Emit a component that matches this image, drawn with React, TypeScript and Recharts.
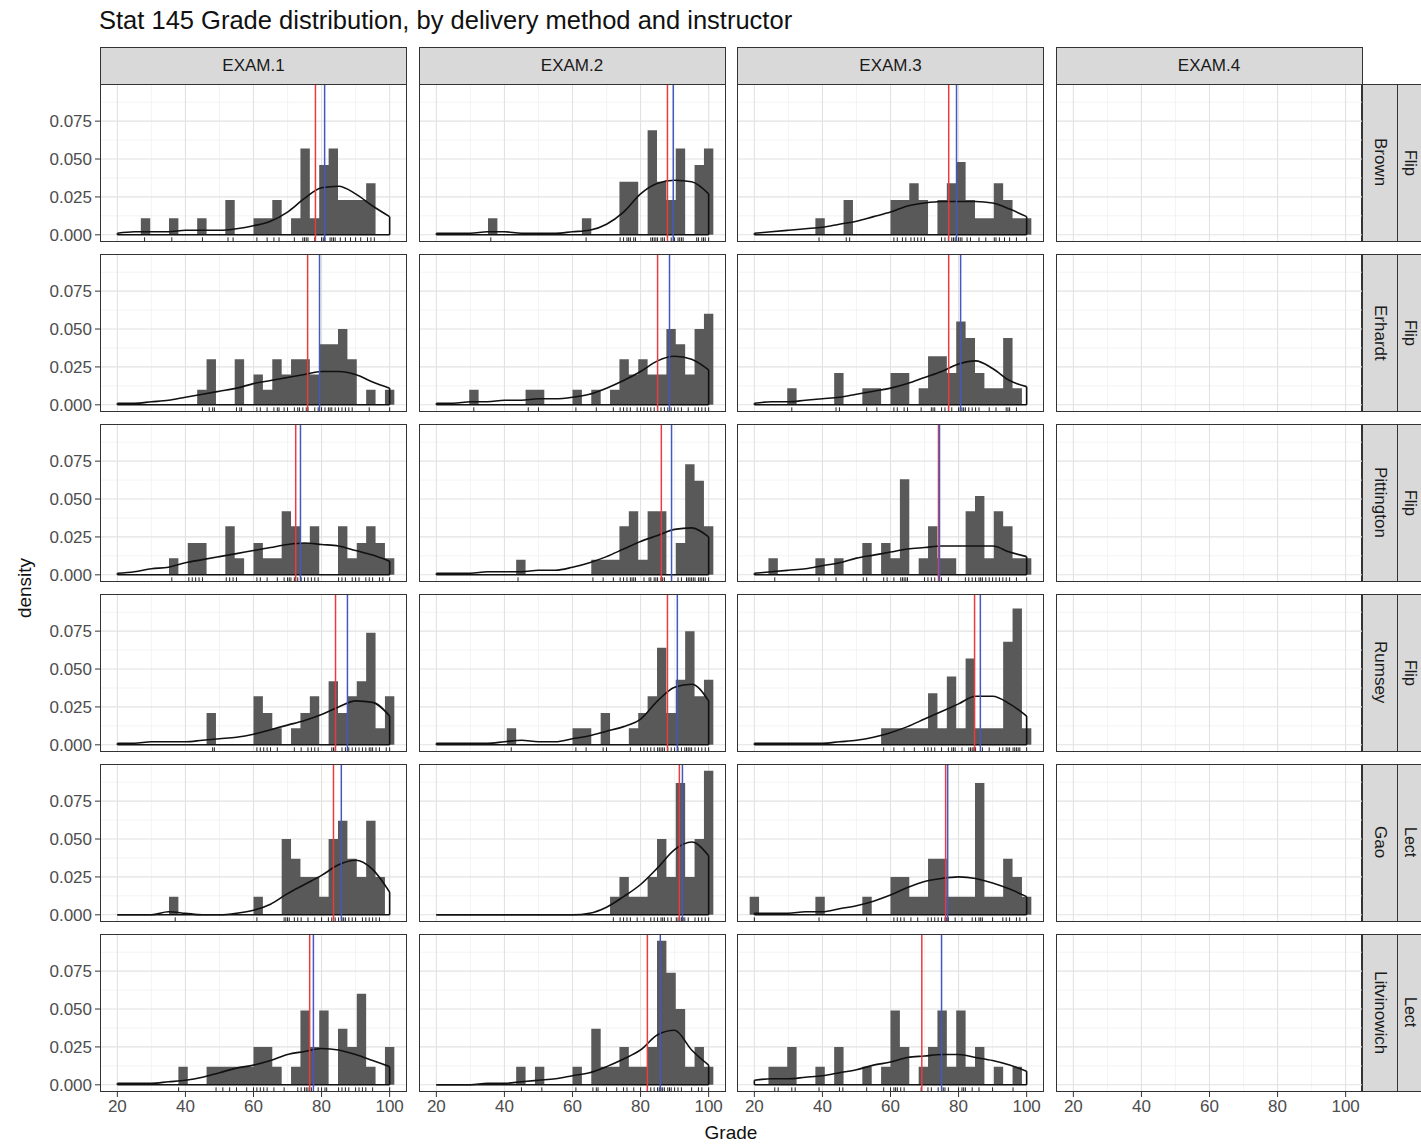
import React from 'react';
import { ComposedChart, Area, Line, XAxis, YAxis, CartesianGrid, ReferenceLine } from 'recharts';

const FONT = '"Liberation Sans", Arial, Helvetica, sans-serif';

const EXAMS = ['EXAM.1', 'EXAM.2', 'EXAM.3', 'EXAM.4'];
const INSTRUCTORS = ['Brown', 'Erhardt', 'Pittington', 'Rumsey', 'Gao', 'Litvinowich'];
const METHODS = ['Flip', 'Flip', 'Flip', 'Flip', 'Lect', 'Lect'];

// histogram bin edges (30 bins), shared by every panel
const BIN_EDGES = [18.62, 21.38, 24.14, 26.9, 29.66, 32.41, 35.17, 37.93, 40.69, 43.45, 46.21, 48.97, 51.72, 54.48, 57.24, 60.0,
  62.76, 65.52, 68.28, 71.03, 73.79, 76.55, 79.31, 82.07, 84.83, 87.59, 90.34, 93.1, 95.86, 98.62, 101.38];
// grades where the density curve was read
const DENS_X = [20, 25, 30, 35, 40, 45, 50, 55, 60, 65, 70, 75, 80, 85, 90, 95, 100];

const X_TICKS = [20, 40, 60, 80, 100];
const X_MINOR = [30, 50, 70, 90];
const Y_TICKS = [0, 0.025, 0.05, 0.075];
const Y_MINOR = [0.0125, 0.0375, 0.0625, 0.0875];

// all densities below are in thousandths
const BROWN_E1_HIST = [0, 0, 0, 11, 0, 0, 11, 0, 0, 11, 0, 0, 23, 0, 0, 11, 11, 23, 0, 11, 57, 11, 46, 57, 23, 23, 23, 34, 0, 0];
const BROWN_E1_DENS = [1, 2, 2, 2, 3, 3, 3, 4, 6, 9, 15, 24, 31, 32, 27, 19, 12];
const BROWN_E1_RUG = [28, 36, 45, 52.5, 54, 61, 64, 66, 67.5, 72, 74.5, 75, 75.5, 76, 78, 80, 80.5, 81, 82.5, 83, 83.5, 84, 85.5, 87, 88.5, 90, 91.5, 93.5, 94.5, 95.5];
const BROWN_E2_HIST = [0, 0, 0, 0, 0, 0, 11, 0, 0, 0, 0, 0, 0, 0, 0, 0, 11, 0, 0, 0, 35, 35, 0, 69, 35, 23, 57, 0, 46, 57];
const BROWN_E2_DENS = [1, 1, 1, 2, 2, 1, 1, 1, 2, 3, 7, 15, 27, 34, 36, 35, 27];
const BROWN_E2_RUG = [36, 64, 74, 75, 76, 76.5, 77, 78, 78.5, 83, 83.5, 84, 84.5, 85, 86, 86.5, 87, 89, 90, 91, 91.5, 92, 92.5, 96.5, 97, 98, 98.5, 99, 100];
const BROWN_E3_HIST = [0, 0, 0, 0, 0, 0, 0, 11, 0, 0, 23, 0, 0, 0, 0, 23, 23, 34, 23, 0, 23, 34, 48, 23, 11, 11, 34, 23, 11, 11];
const BROWN_E3_DENS = [1, 2, 3, 4, 5, 7, 9, 12, 15, 19, 21, 22, 22, 22, 21, 17, 12];
const BROWN_E3_RUG = [39, 47, 48, 61, 62, 63.5, 64.5, 66, 67, 68, 69, 70, 75, 76, 77, 78, 78.5, 79, 80, 80.5, 81, 82.5, 83.5, 86, 88, 90.5, 91, 92, 93.5, 95, 97, 100];

const ERHARDT_E1_HIST = [0, 0, 0, 0, 0, 0, 0, 0, 0, 10, 30, 0, 0, 30, 0, 20, 10, 30, 20, 30, 30, 20, 40, 40, 50, 30, 0, 10, 0, 10];
const ERHARDT_E1_DENS = [1, 1, 2, 3, 5, 7, 9, 11, 14, 16, 18, 20, 22, 22, 20, 15, 11];
const ERHARDT_E1_RUG = [45, 47, 48, 48.5, 55, 56, 56.5, 61, 62, 64, 66, 67, 67.5, 69, 70, 72, 73, 73.5, 74.5, 75.5, 76, 78, 79, 80, 81, 82, 82.5, 83, 84, 85, 86, 87, 88, 89, 94, 100];
const ERHARDT_E2_HIST = [0, 0, 0, 0, 10, 0, 0, 0, 0, 0, 10, 10, 0, 0, 0, 10, 0, 10, 0, 10, 30, 20, 30, 20, 20, 50, 40, 20, 50, 60];
const ERHARDT_E2_DENS = [1, 1, 2, 2, 3, 3, 4, 4, 5, 7, 11, 16, 22, 29, 32, 30, 23];
const ERHARDT_E2_RUG = [31, 47, 50, 61, 67, 72, 74, 75, 76, 77, 79, 80, 81, 82, 83, 84, 85, 86, 87, 88, 88.5, 89, 90, 91, 92, 94, 96, 97, 98, 99, 100];
const ERHARDT_E3_HIST = [0, 0, 0, 0, 11, 0, 0, 0, 0, 21, 0, 0, 11, 11, 0, 21, 21, 0, 11, 32, 32, 21, 55, 44, 21, 11, 11, 44, 11, 0];
const ERHARDT_E3_DENS = [1, 2, 2, 3, 4, 5, 7, 9, 11, 14, 18, 22, 27, 29, 24, 16, 12];
const ERHARDT_E3_RUG = [31, 44, 45, 53, 56, 61, 62, 64, 65, 69, 72, 72.5, 73, 75, 76, 77, 78, 80, 80.5, 81, 81.5, 82, 83, 84, 85, 86, 89, 91, 94, 94.5, 95, 97];

const PITT_E1_HIST = [0, 0, 0, 0, 0, 0, 11, 0, 21, 21, 0, 0, 32, 11, 0, 21, 11, 11, 42, 32, 21, 32, 0, 0, 32, 11, 21, 32, 21, 11];
const PITT_E1_DENS = [1, 2, 4, 5, 8, 10, 12, 14, 16, 18, 20, 21, 20, 19, 16, 13, 9];
const PITT_E1_RUG = [36, 41, 42, 43, 44, 45, 52, 53, 54, 55, 61, 62, 64, 67, 69, 70, 70.5, 71, 72, 73, 74, 75, 76, 77, 78, 79, 85, 86, 87, 89, 90, 91, 93, 94, 95, 97, 98, 100];
const PITT_E2_HIST = [0, 0, 0, 0, 0, 0, 0, 0, 0, 10, 0, 0, 0, 0, 0, 0, 0, 10, 10, 10, 32, 42, 10, 42, 42, 0, 21, 73, 62, 32];
const PITT_E2_DENS = [1, 1, 1, 2, 2, 2, 3, 3, 5, 8, 12, 17, 22, 26, 30, 31, 25];
const PITT_E2_RUG = [44, 66, 69, 72, 74, 75, 76, 77, 77.5, 78, 78.5, 81, 82.5, 83, 84, 84.5, 85, 86, 86.5, 87, 91, 92, 93.5, 94, 94.5, 95, 95.5, 96, 97, 97.5, 98, 98.5, 99, 100];
const PITT_E3_HIST = [0, 0, 11, 0, 0, 0, 0, 11, 0, 11, 0, 0, 21, 0, 21, 11, 63, 0, 11, 32, 11, 11, 0, 42, 52, 11, 42, 32, 11, 11];
const PITT_E3_DENS = [1, 2, 3, 4, 6, 8, 11, 13, 15, 17, 18, 19, 19, 19, 19, 15, 12];
const PITT_E3_RUG = [26, 39, 44, 52, 53, 58, 59, 61, 63, 63.5, 64, 64.5, 65, 70, 71, 72, 73, 75, 77, 82, 83, 84, 85, 86, 86.5, 87, 88, 89, 90, 91, 92, 93, 94, 95, 97, 100];

const RUMSEY_E1_HIST = [0, 0, 0, 0, 0, 0, 0, 0, 0, 0, 21, 0, 0, 0, 0, 32, 21, 11, 0, 11, 21, 32, 0, 42, 21, 32, 42, 74, 11, 32];
const RUMSEY_E1_DENS = [1, 1, 2, 2, 2, 3, 4, 5, 7, 10, 13, 16, 20, 25, 29, 28, 19];
const RUMSEY_E1_RUG = [48, 48.5, 61, 62, 63, 64, 65, 67, 72, 74, 76, 77, 78, 79, 83, 83.5, 84, 86, 87, 88, 89, 90, 91, 92, 93, 94, 94.5, 95, 96, 97, 99, 100];
const RUMSEY_E2_HIST = [0, 0, 0, 0, 0, 0, 0, 0, 11, 0, 0, 0, 0, 0, 0, 11, 11, 0, 21, 0, 0, 11, 21, 32, 64, 21, 43, 75, 32, 43];
const RUMSEY_E2_DENS = [1, 1, 1, 1, 2, 3, 2, 2, 4, 6, 9, 12, 17, 29, 38, 40, 29];
const RUMSEY_E2_RUG = [42, 61, 64, 69, 70, 77, 80, 81, 82, 83, 84, 85, 85.5, 86, 86.5, 87, 88, 89, 90, 91, 92, 93, 93.5, 94, 94.5, 95, 96, 97, 98, 99, 100];
const RUMSEY_E3_HIST = [0, 0, 0, 0, 0, 0, 0, 0, 0, 0, 0, 0, 0, 0, 11, 11, 11, 11, 11, 34, 11, 45, 11, 57, 11, 11, 11, 68, 90, 11];
const RUMSEY_E3_DENS = [1, 1, 1, 1, 1, 2, 3, 5, 8, 12, 17, 22, 27, 32, 32, 27, 19];
const RUMSEY_E3_RUG = [58, 61, 64, 67, 70, 71, 72, 73, 75, 77, 78, 78.5, 79, 81, 83, 83.5, 84, 84.5, 85, 87, 89, 92, 93, 94, 94.5, 95, 96, 96.5, 97, 97.5, 98, 100];

const GAO_E1_HIST = [0, 0, 0, 0, 0, 0, 12, 0, 0, 0, 0, 0, 0, 0, 0, 12, 0, 0, 50, 37, 25, 25, 12, 50, 62, 37, 25, 62, 25, 0];
const GAO_E1_DENS = [0, 0, 0, 2, 1, 0, 0, 1, 3, 7, 14, 20, 26, 33, 36, 30, 15];
const GAO_E1_RUG = [37, 61, 69, 69.5, 70, 70.5, 72, 73, 74, 76, 78, 80, 82, 83, 84, 85, 86, 86.5, 87, 88, 89, 90, 92, 93, 94, 95, 96, 97];
const GAO_E2_HIST = [0, 0, 0, 0, 0, 0, 0, 0, 0, 0, 0, 0, 0, 0, 0, 0, 0, 0, 0, 12, 25, 12, 12, 25, 50, 25, 87, 25, 50, 95];
const GAO_E2_DENS = [0, 0, 0, 0, 0, 0, 0, 0, 0, 1, 5, 12, 20, 31, 43, 48, 39];
const GAO_E2_RUG = [72, 74, 75, 76, 77, 79, 81, 83, 84, 85, 86, 86.5, 87, 88, 89, 90.5, 91, 91.5, 92, 92.5, 93, 94, 96, 97, 98, 99, 100];
const GAO_E3_HIST = [12, 0, 0, 0, 0, 0, 0, 12, 0, 0, 0, 0, 12, 0, 0, 25, 25, 12, 12, 37, 37, 12, 12, 12, 87, 12, 12, 37, 25, 12];
const GAO_E3_DENS = [1, 1, 1, 2, 2, 4, 6, 9, 13, 18, 22, 24, 25, 24, 21, 17, 12];
const GAO_E3_RUG = [20, 39, 53, 61, 62, 63, 64, 66, 68, 71, 72, 73, 74, 75, 76, 76.5, 77, 79, 81, 84, 85, 86, 86.5, 87, 90, 93, 94, 95, 97, 98, 100];

const LITV_E1_HIST = [0, 0, 0, 0, 0, 0, 0, 12, 0, 0, 12, 12, 12, 12, 12, 25, 25, 12, 0, 12, 49, 25, 49, 0, 37, 25, 60, 12, 0, 25];
const LITV_E1_DENS = [1, 1, 1, 2, 3, 5, 8, 11, 13, 16, 20, 22, 24, 23, 20, 16, 12];
const LITV_E1_RUG = [38, 49, 51, 53, 55, 58, 60, 61, 62, 63, 64, 66, 69, 73, 74, 75, 75.5, 76, 77, 79, 80, 81, 81.5, 85, 86, 87, 88, 90, 91, 92, 93, 95, 100];
const LITV_E2_HIST = [0, 0, 0, 0, 0, 0, 0, 0, 0, 12, 0, 12, 0, 0, 0, 12, 0, 37, 12, 12, 25, 12, 12, 25, 95, 74, 50, 12, 25, 12];
const LITV_E2_DENS = [0, 0, 0, 1, 1, 2, 3, 4, 6, 8, 12, 17, 23, 33, 36, 23, 13];
const LITV_E2_RUG = [45, 51, 61, 66, 67, 67.5, 70, 73, 75, 76, 78, 80, 82, 83, 84, 85, 85.5, 86, 86.5, 87, 88, 88.5, 89, 90, 91, 92, 95, 97, 98, 100];
const LITV_E3_HIST = [0, 0, 12, 12, 25, 0, 0, 12, 0, 25, 0, 0, 12, 0, 12, 49, 25, 0, 12, 25, 49, 12, 49, 12, 25, 0, 12, 0, 12, 0];
const LITV_E3_DENS = [3, 4, 4, 5, 6, 8, 10, 13, 15, 18, 19, 20, 20, 18, 16, 13, 9];
const LITV_E3_RUG = [26, 27, 31, 32, 39, 45, 46, 53, 58, 60, 61, 61.5, 62, 63, 64, 69, 71, 72, 74, 75, 75.5, 76, 77, 80, 81, 81.5, 82, 84, 86, 90, 96];

// red = mean, blue = median, per instructor row and exam column
const MEANS = [[78.2, 87.9, 77.1], [75.9, 85.0, 77.1], [72.4, 86.1, 74.1], [84.1, 87.9, 84.7], [83.5, 91.4, 76.2], [76.5, 82.0, 69.2]];
const MEDIANS = [[80.9, 89.6, 79.4], [79.4, 88.5, 80.6], [73.8, 89.1, 74.4], [87.6, 90.8, 86.4], [85.8, 92.3, 76.8], [77.6, 85.8, 75.0]];

const HISTS = [
  [BROWN_E1_HIST, BROWN_E2_HIST, BROWN_E3_HIST],
  [ERHARDT_E1_HIST, ERHARDT_E2_HIST, ERHARDT_E3_HIST],
  [PITT_E1_HIST, PITT_E2_HIST, PITT_E3_HIST],
  [RUMSEY_E1_HIST, RUMSEY_E2_HIST, RUMSEY_E3_HIST],
  [GAO_E1_HIST, GAO_E2_HIST, GAO_E3_HIST],
  [LITV_E1_HIST, LITV_E2_HIST, LITV_E3_HIST],
];
const DENS = [
  [BROWN_E1_DENS, BROWN_E2_DENS, BROWN_E3_DENS],
  [ERHARDT_E1_DENS, ERHARDT_E2_DENS, ERHARDT_E3_DENS],
  [PITT_E1_DENS, PITT_E2_DENS, PITT_E3_DENS],
  [RUMSEY_E1_DENS, RUMSEY_E2_DENS, RUMSEY_E3_DENS],
  [GAO_E1_DENS, GAO_E2_DENS, GAO_E3_DENS],
  [LITV_E1_DENS, LITV_E2_DENS, LITV_E3_DENS],
];
const RUGS = [
  [BROWN_E1_RUG, BROWN_E2_RUG, BROWN_E3_RUG],
  [ERHARDT_E1_RUG, ERHARDT_E2_RUG, ERHARDT_E3_RUG],
  [PITT_E1_RUG, PITT_E2_RUG, PITT_E3_RUG],
  [RUMSEY_E1_RUG, RUMSEY_E2_RUG, RUMSEY_E3_RUG],
  [GAO_E1_RUG, GAO_E2_RUG, GAO_E3_RUG],
  [LITV_E1_RUG, LITV_E2_RUG, LITV_E3_RUG],
];

// layout
const COL_X = [100, 418.5, 737, 1055.5];
const ROW_Y = [83.5, 253.5, 423.5, 593.5, 763.5, 933.5];
const PANEL_W = 307;
const PANEL_H = 158;
const STRIP_TOP = 47;
const Y_AXIS_W = 60;
const X_AXIS_H = 34;
const PAD_BOTTOM = 10; // room below the plot so the 0.000 label is not clipped
const X_DOMAIN = [14.9, 105.1];
const Y_DOMAIN = [-0.00474, 0.0995];
const RUG_LEN = 0.0031;

const RED = '#ea3b3f';
const BLUE = '#4459bf';
const BORDER = '#333333';

const buildRows = (hist, dens) => {
  const rows = [];
  BIN_EDGES.forEach((x, i) => rows.push({ x, h: (hist[i] ?? 0) / 1000 }));
  DENS_X.forEach((x, i) => rows.push({ x, d: dens[i] / 1000 }));
  rows.sort((a, b) => a.x - b.x);
  return rows;
};

const Panel = ({ row, col }) => {
  const isLeft = col === 0;
  const isBottom = row === 5;
  const yW = isLeft ? Y_AXIS_W : 0;
  const xH = isBottom ? X_AXIS_H : 0;
  const padB = !isBottom && isLeft ? PAD_BOTTOM : 0;
  const hasData = col < 3;
  const hist = hasData ? HISTS[row][col] : null;
  const dens = hasData ? DENS[row][col] : null;
  const rug = hasData ? RUGS[row][col] : [];
  const data = hasData ? buildRows(hist, dens) : BIN_EDGES.map((x) => ({ x }));
  const dStart = hasData ? dens[0] / 1000 : 0;
  const dEnd = hasData ? dens[dens.length - 1] / 1000 : 0;
  const tickStyle = { fontSize: 17, fill: '#4d4d4d', fontFamily: FONT };
  const w = PANEL_W + yW;
  const h = PANEL_H + xH + padB;

  return (
    <div style={{ position: 'absolute', left: COL_X[col] - yW, top: ROW_Y[row], width: w, height: h }}>
      <ComposedChart width={w} height={h} data={data} margin={{ top: 0, right: 0, bottom: padB, left: 0 }}>
        <CartesianGrid stroke="#efefef" strokeWidth={0.7} horizontalValues={Y_MINOR} verticalValues={X_MINOR} />
        <CartesianGrid stroke="#e2e2e2" strokeWidth={1.1} horizontalValues={Y_TICKS} verticalValues={X_TICKS} />
        <XAxis type="number" dataKey="x" domain={X_DOMAIN} ticks={X_TICKS} interval={0} allowDataOverflow
          hide={!isBottom} height={X_AXIS_H} axisLine={false} tickSize={5} tickMargin={3}
          tickLine={{ stroke: BORDER }} tick={tickStyle} />
        <YAxis type="number" domain={Y_DOMAIN} ticks={Y_TICKS} interval={0} allowDataOverflow
          hide={!isLeft} width={Y_AXIS_W} axisLine={false} tickSize={5} tickMargin={3}
          tickLine={{ stroke: BORDER }} tick={tickStyle} tickFormatter={(v) => v.toFixed(3)} />
        {hasData && (
          <Area dataKey="h" type="stepAfter" baseValue={0} fill="#595959" fillOpacity={1} stroke="none"
            connectNulls dot={false} activeDot={false} isAnimationActive={false} />
        )}
        {hasData && (
          <Line dataKey="d" type="monotone" stroke="#111111" strokeWidth={1.6} connectNulls
            dot={false} activeDot={false} isAnimationActive={false} />
        )}
        {hasData && <ReferenceLine segment={[{ x: 20, y: 0 }, { x: 100, y: 0 }]} stroke="#111111" strokeWidth={1.6} />}
        {hasData && <ReferenceLine segment={[{ x: 100, y: 0 }, { x: 100, y: dEnd }]} stroke="#111111" strokeWidth={1.6} />}
        {hasData && dStart > 0 && <ReferenceLine segment={[{ x: 20, y: 0 }, { x: 20, y: dStart }]} stroke="#111111" strokeWidth={1.6} />}
        {rug.map((v, i) => (
          <ReferenceLine key={`rug-${i}`} segment={[{ x: v, y: Y_DOMAIN[0] }, { x: v, y: Y_DOMAIN[0] + RUG_LEN }]}
            stroke="#222222" strokeWidth={1} />
        ))}
        {hasData && <ReferenceLine x={MEANS[row][col]} stroke={RED} strokeWidth={1.5} />}
        {hasData && <ReferenceLine x={MEDIANS[row][col]} stroke={BLUE} strokeWidth={1.5} />}
      </ComposedChart>
      <div style={{ position: 'absolute', left: yW, top: 0, width: PANEL_W, height: PANEL_H, border: `1.2px solid ${BORDER}`, boxSizing: 'border-box', pointerEvents: 'none' }} />
    </div>
  );
};

const stripBox = { position: 'absolute', background: '#d9d9d9', border: `1.2px solid ${BORDER}`, boxSizing: 'border-box', display: 'flex', alignItems: 'center', justifyContent: 'center', color: '#1a1a1a', fontSize: 17, fontFamily: FONT };

export default function App() {
  return (
    <div style={{ position: 'absolute', left: 0, top: 0, width: 1421, height: 1144, overflow: 'hidden', background: '#ffffff', fontFamily: FONT }}>
      <div style={{ position: 'absolute', left: 99, top: 5, fontSize: 25.5, lineHeight: '30px', color: '#111', whiteSpace: 'nowrap' }}>
        Stat 145 Grade distribution, by delivery method and instructor
      </div>
      {EXAMS.map((e, c) => (
        <div key={e} style={{ ...stripBox, left: COL_X[c], top: STRIP_TOP, width: PANEL_W, height: ROW_Y[0] - STRIP_TOP + 1.2 }}>{e}</div>
      ))}
      {INSTRUCTORS.map((name, r) => (
        <React.Fragment key={name}>
          <div style={{ ...stripBox, left: COL_X[3] + PANEL_W - 1.2, top: ROW_Y[r], width: 36.8, height: PANEL_H }}>
            <span style={{ writingMode: 'vertical-rl' }}>{name}</span>
          </div>
          <div style={{ ...stripBox, left: COL_X[3] + PANEL_W + 34.4, top: ROW_Y[r], width: 40, height: PANEL_H, justifyContent: 'flex-start', paddingLeft: 3 }}>
            <span style={{ writingMode: 'vertical-rl', fontSize: 16, lineHeight: '18px' }}>{METHODS[r]}</span>
          </div>
        </React.Fragment>
      ))}
      {INSTRUCTORS.map((name, r) => EXAMS.map((e, c) => <Panel key={`${name}-${e}`} row={r} col={c} />))}
      <div style={{ position: 'absolute', left: 25 - 60, top: 588 - 13, width: 120, height: 26, lineHeight: '26px', textAlign: 'center', fontSize: 19, color: '#111', transform: 'rotate(-90deg)' }}>
        density
      </div>
      <div style={{ position: 'absolute', left: 731 - 60, top: 1120, width: 120, height: 26, lineHeight: '26px', textAlign: 'center', fontSize: 19, color: '#111' }}>
        Grade
      </div>
    </div>
  );
}
